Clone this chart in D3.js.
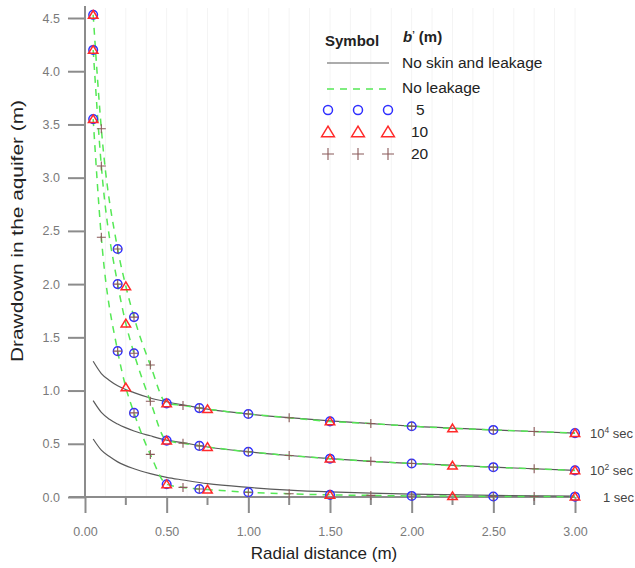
<!DOCTYPE html>
<html>
<head>
<meta charset="utf-8">
<script src="https://cdn.jsdelivr.net/npm/d3@7"></script>
<style>
  html, body { margin: 0; padding: 0; background: #fff; }
  svg { display: block; font-family: 'Liberation Sans', Arial, sans-serif; }
</style>
</head>
<body>
<svg id="chart" width="635" height="568"></svg>
<script>
// radial distance (m) for the curves
let rSolid = [0.05, 0.1, 0.15, 0.2, 0.3, 0.4, 0.5, 0.6, 0.75, 1.0, 1.25, 1.5, 1.75, 2.0, 2.5, 3.0];
// no skin and leakage (solid gray)
let solid_t1 = [0.545, 0.44, 0.38, 0.33, 0.265, 0.22, 0.185, 0.16, 0.125, 0.09, 0.065, 0.048, 0.036, 0.027, 0.015, 0.008];
let solid_t100 = [0.905, 0.795, 0.73, 0.685, 0.62, 0.575, 0.535, 0.51, 0.47, 0.425, 0.39, 0.36, 0.335, 0.315, 0.28, 0.25];
let solid_t1e4 = [1.275, 1.16, 1.095, 1.045, 0.98, 0.93, 0.895, 0.865, 0.825, 0.78, 0.745, 0.715, 0.69, 0.665, 0.63, 0.60];

// no leakage (green dashed)
let rNoLeak = [0.05, 0.1, 0.2, 0.25, 0.3, 0.4, 0.5, 0.6, 0.7, 0.75, 1.0, 1.25, 1.5, 1.75, 2.0, 2.25, 2.5, 2.75, 3.0];
let noLeak_t1 = [3.55, 2.44, 1.37, 1.03, 0.79, 0.40, 0.12, 0.09, 0.075, 0.07, 0.045, 0.03, 0.02, 0.015, 0.01, 0.008, 0.005, 0.004, 0.003];
let noLeak_t100 = [4.20, 3.11, 2.00, 1.63, 1.35, 0.90, 0.53, 0.505, 0.48, 0.47, 0.425, 0.39, 0.36, 0.335, 0.315, 0.295, 0.28, 0.265, 0.25];
let noLeak_t1e4 = [4.53, 3.46, 2.33, 1.98, 1.69, 1.24, 0.88, 0.86, 0.835, 0.825, 0.78, 0.745, 0.71, 0.69, 0.665, 0.645, 0.63, 0.615, 0.60];

// b' = 5 m (circles)
let b5R = [0.05, 0.2, 0.3, 0.5, 0.7, 1.0, 1.5, 2.0, 2.5, 3.0];
let b5_t1 = [3.55, 1.37, 0.79, 0.12, 0.075, 0.045, 0.02, 0.01, 0.005, 0.003];
let b5_t100 = [4.20, 2.00, 1.35, 0.53, 0.48, 0.425, 0.36, 0.315, 0.28, 0.25];
let b5_t1e4 = [4.53, 2.33, 1.69, 0.88, 0.835, 0.78, 0.71, 0.665, 0.63, 0.60];

// b' = 10 m (triangles)
let b10R = [0.05, 0.25, 0.5, 0.75, 1.5, 2.25, 3.0];
let b10_t1 = [3.55, 1.03, 0.12, 0.07, 0.02, 0.008, 0.003];
let b10_t100 = [4.20, 1.63, 0.53, 0.47, 0.36, 0.295, 0.25];
let b10_t1e4 = [4.53, 1.98, 0.88, 0.825, 0.71, 0.645, 0.60];

// b' = 20 m (crosses)
let b20R = [0.1, 0.2, 0.3, 0.4, 0.6, 0.7, 1.0, 1.25, 1.75, 2.0, 2.5, 2.75];
let b20_t1 = [2.44, 1.37, 0.79, 0.40, 0.09, 0.075, 0.045, 0.03, 0.015, 0.01, 0.005, 0.004];
let b20_t100 = [3.11, 2.00, 1.35, 0.90, 0.505, 0.48, 0.425, 0.39, 0.335, 0.315, 0.28, 0.265];
let b20_t1e4 = [3.46, 2.33, 1.69, 1.24, 0.86, 0.835, 0.78, 0.745, 0.69, 0.665, 0.63, 0.615];

let xTicks = [0, 0.5, 1.0, 1.5, 2.0, 2.5, 3.0];
let xMinorTicks = [0.25, 0.75, 1.25, 1.75, 2.25, 2.75];
let yTicks = [0, 0.5, 1.0, 1.5, 2.0, 2.5, 3.0, 3.5, 4.0, 4.5];
let timeLabels = [
  { base: '10', sup: '4', rest: ' sec', value: 0.60 },
  { base: '10', sup: '2', rest: ' sec', value: 0.25 },
  { base: '1', sup: '', rest: ' sec', value: 0.0 },
];

let colors = {
  solid: '#5a5a5a',
  dashed: '#55e855',
  circle: '#3030ff',
  triangle: '#ff2a2a',
  cross: '#8a5a5a',
  axis: '#8c8c8c',
  tick: '#7a7a7a',
  text: '#222',
};

let svg = d3.select('#chart');
let x = d3.scaleLinear().domain([0, 3]).range([85, 575]);
let y = d3.scaleLinear().domain([0, 4.5]).range([497, 18]);

// faint vertical grid
let grid = svg.append('g');
grid.selectAll('line')
  .data(d3.range(0.125, 3.01, 0.125))
  .enter()
  .append('line')
  .attr('x1', d => x(d))
  .attr('x2', d => x(d))
  .attr('y1', 8)
  .attr('y2', 497)
  .attr('stroke', '#f4f4f4')
  .attr('stroke-width', 1);

// axes
let axisX = d3.axisBottom(x)
  .tickValues(xTicks)
  .tickFormat(d3.format('.2f'))
  .tickSize(16)
  .tickPadding(14);
let gx = svg.append('g')
  .attr('transform', `translate(0,${y(0)})`)
  .call(axisX);
gx.select('.domain').remove();
gx.selectAll('line').attr('stroke', colors.axis).attr('stroke-width', 2);
gx.selectAll('text')
  .attr('fill', colors.tick)
  .style('font-size', '12.5px')
  .style('font-family', "'Liberation Sans', Arial, sans-serif");

svg.append('g')
  .selectAll('line')
  .data(xMinorTicks)
  .enter()
  .append('line')
  .attr('x1', d => x(d))
  .attr('x2', d => x(d))
  .attr('y1', y(0))
  .attr('y2', y(0) + 8)
  .attr('stroke', colors.axis)
  .attr('stroke-width', 2);

let axisY = d3.axisLeft(y)
  .tickValues(yTicks)
  .tickFormat(d3.format('.1f'))
  .tickSize(17)
  .tickPadding(8);
let gy = svg.append('g')
  .attr('transform', `translate(${x(0)},0)`)
  .call(axisY);
gy.select('.domain').remove();
gy.selectAll('line').attr('stroke', colors.axis).attr('stroke-width', 2);
gy.selectAll('text')
  .attr('fill', colors.tick)
  .style('font-size', '12.5px')
  .style('font-family', "'Liberation Sans', Arial, sans-serif");

// axis lines
svg.append('line')
  .attr('x1', 69)
  .attr('x2', x(3))
  .attr('y1', y(0))
  .attr('y2', y(0))
  .attr('stroke', colors.axis)
  .attr('stroke-width', 2);
svg.append('line')
  .attr('x1', x(0))
  .attr('x2', x(0))
  .attr('y1', 6)
  .attr('y2', y(0))
  .attr('stroke', colors.axis)
  .attr('stroke-width', 2);

// axis titles
svg.append('text')
  .attr('x', 324)
  .attr('y', 559)
  .attr('text-anchor', 'middle')
  .attr('fill', colors.text)
  .style('font-size', '17px')
  .text('Radial distance (m)');
svg.append('text')
  .attr('transform', 'translate(23,231) rotate(-90)')
  .attr('text-anchor', 'middle')
  .attr('fill', colors.text)
  .attr('textLength', 262)
  .attr('lengthAdjust', 'spacingAndGlyphs')
  .style('font-size', '17px')
  .text('Drawdown in the aquifer (m)');

// curves
let line = d3.line()
  .x(d => x(d[0]))
  .y(d => y(d[1]))
  .curve(d3.curveMonotoneX);

let plot = svg.append('g');

[solid_t1, solid_t100, solid_t1e4].forEach(vals => {
  plot.append('path')
    .datum(d3.zip(rSolid, vals))
    .attr('d', line)
    .attr('fill', 'none')
    .attr('stroke', colors.solid)
    .attr('stroke-width', 1.2);
});

[noLeak_t1, noLeak_t100, noLeak_t1e4].forEach(vals => {
  plot.append('path')
    .datum(d3.zip(rNoLeak, vals))
    .attr('d', line)
    .attr('fill', 'none')
    .attr('stroke', colors.dashed)
    .attr('stroke-width', 1.5)
    .attr('stroke-dasharray', '7,6');
});

// markers
function drawCircle(g, cx, cy, r) {
  g.append('circle')
    .attr('cx', cx)
    .attr('cy', cy)
    .attr('r', r)
    .attr('fill', 'none')
    .attr('stroke', colors.circle)
    .attr('stroke-width', 1.5);
}
function drawTriangle(g, cx, cy, s) {
  g.append('path')
    .attr('d', `M${cx},${cy - s}L${cx + s * 1.1},${cy + s * 0.8}L${cx - s * 1.1},${cy + s * 0.8}Z`)
    .attr('fill', 'none')
    .attr('stroke', colors.triangle)
    .attr('stroke-width', 1.5);
}
function drawCross(g, cx, cy, s) {
  g.append('path')
    .attr('d', `M${cx - s},${cy}H${cx + s}M${cx},${cy - s}V${cy + s}`)
    .attr('fill', 'none')
    .attr('stroke', colors.cross)
    .attr('stroke-width', 1.1);
}

let marks = svg.append('g');
[b5_t1, b5_t100, b5_t1e4].forEach(vals => {
  b5R.forEach((r, i) => drawCircle(marks, x(r), y(vals[i]), 4.3));
});
[b10_t1, b10_t100, b10_t1e4].forEach(vals => {
  b10R.forEach((r, i) => drawTriangle(marks, x(r), y(vals[i]), 4.3));
});
[b20_t1, b20_t100, b20_t1e4].forEach(vals => {
  b20R.forEach((r, i) => drawCross(marks, x(r), y(vals[i]), 4.5));
});

// time labels on the right
timeLabels.forEach(d => {
  let t = svg.append('text')
    .attr('x', d.sup ? 590 : 603)
    .attr('y', y(d.value) + 5)
    .attr('fill', '#444')
    .style('font-size', '13px');
  t.append('tspan').text(d.base);
  if (d.sup) {
    t.append('tspan').attr('dy', -5).style('font-size', '8.5px').text(d.sup);
    t.append('tspan').attr('dy', 5).text(d.rest);
  } else {
    t.append('tspan').text(d.rest);
  }
});

// legend
let legend = svg.append('g');
legend.append('text')
  .attr('x', 325)
  .attr('y', 46)
  .attr('fill', colors.text)
  .style('font-size', '15px')
  .style('font-weight', 'bold')
  .text('Symbol');
let bt = legend.append('text')
  .attr('x', 403)
  .attr('y', 42)
  .attr('fill', colors.text)
  .style('font-size', '15px')
  .style('font-weight', 'bold');
bt.append('tspan').style('font-style', 'italic').text('b');
bt.append('tspan').attr('dy', -5).style('font-size', '9px').text('\u2019');
bt.append('tspan').attr('dy', 5).text(' (m)');

legend.append('line')
  .attr('x1', 327).attr('x2', 389)
  .attr('y1', 63).attr('y2', 63)
  .attr('stroke', colors.solid)
  .attr('stroke-width', 1.2);
legend.append('text')
  .attr('x', 402).attr('y', 68)
  .attr('fill', colors.text)
  .style('font-size', '15.5px')
  .text('No skin and leakage');

legend.append('line')
  .attr('x1', 327).attr('x2', 389)
  .attr('y1', 89).attr('y2', 89)
  .attr('stroke', colors.dashed)
  .attr('stroke-width', 1.5)
  .attr('stroke-dasharray', '7,6');
legend.append('text')
  .attr('x', 402).attr('y', 93)
  .attr('fill', colors.text)
  .style('font-size', '15.5px')
  .text('No leakage');

[328, 358, 388].forEach(cx => {
  drawCircle(legend, cx, 110, 4.5);
  drawTriangle(legend, cx, 132, 5.8);
  drawCross(legend, cx, 154, 6);
});
[['5', 416, 115], ['10', 411, 137], ['20', 411, 159]].forEach(d => {
  legend.append('text')
    .attr('x', d[1]).attr('y', d[2])
    .attr('fill', colors.text)
    .style('font-size', '15.5px')
    .text(d[0]);
});
</script>
</body>
</html>
